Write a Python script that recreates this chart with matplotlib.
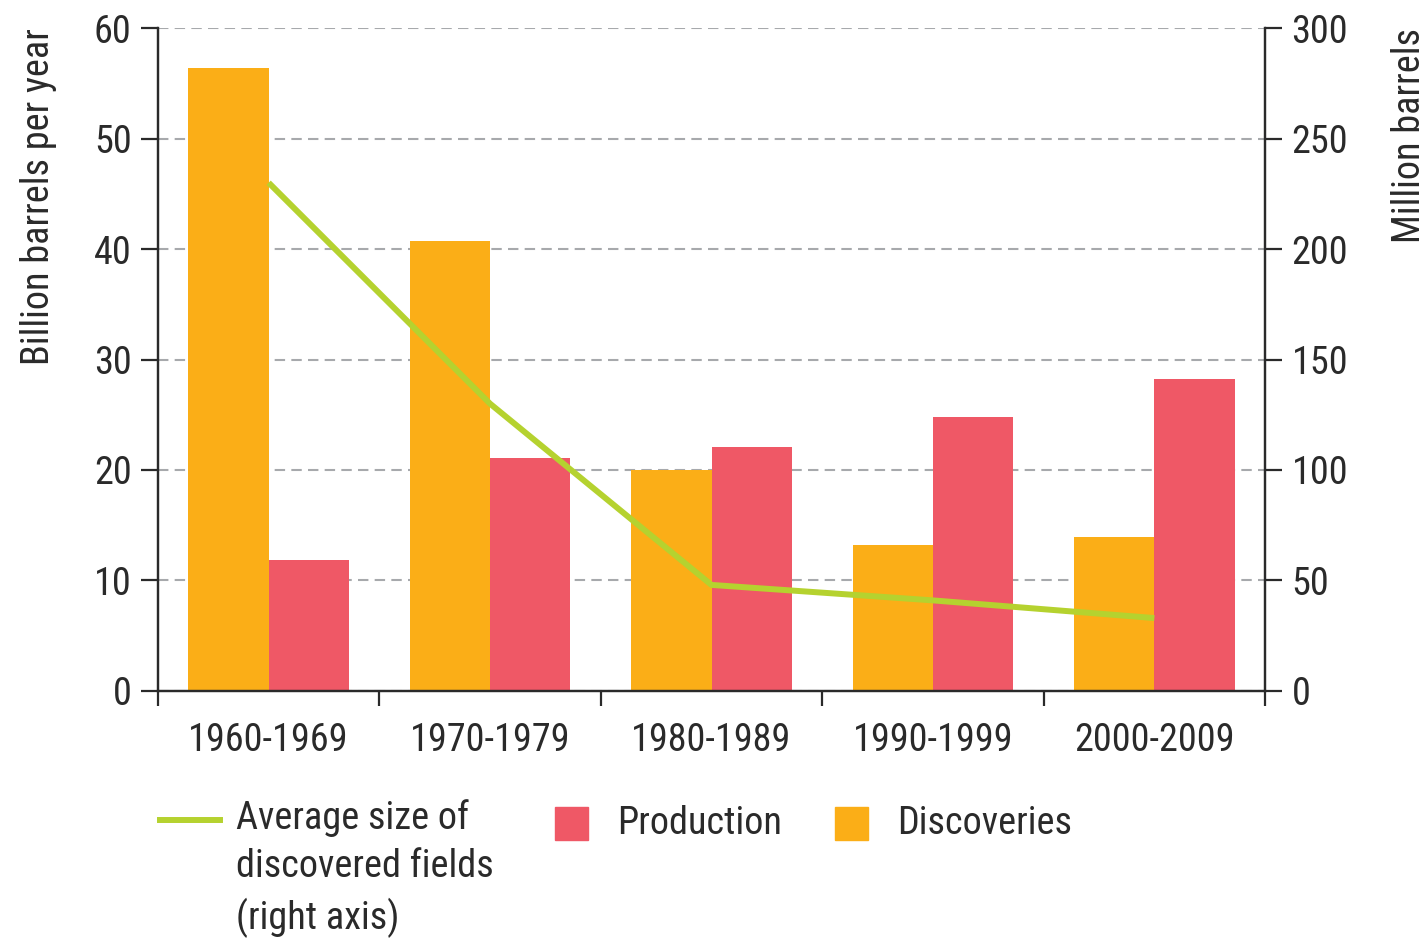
import numpy as np
import matplotlib
matplotlib.use("Agg")
import matplotlib.pyplot as plt
import matplotlib.font_manager as fm
from matplotlib.lines import Line2D
from matplotlib.patches import Rectangle

# 좁은 글꼴 우선
family = "DejaVu Sans"
for name in ["Liberation Sans Narrow", "Roboto Condensed", "Open Sans Condensed"]:
    try:
        fm.findfont(fm.FontProperties(family=name), fallback_to_default=False)
        family = name
        break
    except Exception:
        pass
plt.rcParams["font.family"] = family

# ── 데이터 ────────────────────────────────────────────
decades = ["1960-1969", "1970-1979", "1980-1989", "1990-1999", "2000-2009"]
discoveries = [56.4, 40.7, 20.0, 13.2, 13.9]      # billion barrels per year
production = [11.9, 21.1, 22.1, 24.8, 28.2]       # billion barrels per year
avg_field_size = [230, 130, 48, 41, 33]           # million barrels (right axis)

C_DISC = "#FBAE17"
C_PROD = "#EF5866"
C_LINE = "#B5D22F"
C_TEXT = "#2a2a2a"
C_GRID = "#A7A9AC"
FS = 27.5

fig = plt.figure(figsize=(14.28, 9.4), dpi=100)
ax = fig.add_axes([0.1106, 0.2649, 0.7753, 0.7053])
ax2 = ax.twinx()

x = np.arange(len(decades))
w = 0.362
ax.bar(x - w / 2, discoveries, w, color=C_DISC, zorder=2)
ax.bar(x + w / 2, production, w, color=C_PROD, zorder=2)

ax.set_ylim(0, 60)
ax.set_yticks(range(0, 61, 10))
ax.set_xlim(-0.5, len(decades) - 0.5)
ax.grid(axis="y", color=C_GRID, linestyle=(0, (5, 3)), linewidth=1.5, zorder=0)
ax.set_axisbelow(True)

ax2.plot(x, avg_field_size, color=C_LINE, linewidth=4.3, solid_capstyle="butt", zorder=3)
ax2.set_ylim(0, 300)
ax2.set_yticks(range(0, 301, 50))

# 축 꾸미기
ax.set_xticks(x)
ax.set_xticklabels(decades)
ax.set_xticks(np.arange(-0.5, len(decades)), minor=True)
ax.tick_params(axis="x", which="major", length=0, pad=22, labelsize=FS, labelcolor=C_TEXT)
ax.tick_params(axis="x", which="minor", length=11, width=1.6, color=C_TEXT, direction="out")
ax.tick_params(axis="y", length=12, width=1.6, color=C_TEXT, pad=7, labelsize=FS, labelcolor=C_TEXT)
ax2.tick_params(axis="y", length=12, width=1.6, color=C_TEXT, pad=7, labelsize=FS, labelcolor=C_TEXT)

for a in (ax, ax2):
    a.spines["top"].set_visible(False)
    for s in ("left", "right", "bottom"):
        a.spines[s].set_linewidth(1.6)
        a.spines[s].set_color(C_TEXT)

fig.text(0.027, 0.97, "Billion barrels per year", rotation=90, ha="center", va="top",
         fontsize=FS, color=C_TEXT)
fig.text(0.987, 0.97, "Million barrels", rotation=90, ha="center", va="top",
         fontsize=FS, color=C_TEXT)

# ── 범례 (수동) ───────────────────────────────────────
fig.add_artist(Line2D([0.112, 0.154], [0.128, 0.128], color=C_LINE, linewidth=4.3,
                      transform=fig.transFigure))
fig.text(0.165, 0.150, "Average size of\ndiscovered fields\n(right axis)", ha="left", va="top",
         fontsize=FS, color=C_TEXT, linespacing=1.4)
fig.add_artist(Rectangle((0.389, 0.106), 0.023, 0.036, color=C_PROD, transform=fig.transFigure))
fig.text(0.432, 0.124, "Production", ha="left", va="center", fontsize=FS, color=C_TEXT)
fig.add_artist(Rectangle((0.585, 0.106), 0.023, 0.036, color=C_DISC, transform=fig.transFigure))
fig.text(0.628, 0.124, "Discoveries", ha="left", va="center", fontsize=FS, color=C_TEXT)

fig.savefig("out.png", dpi=100)
